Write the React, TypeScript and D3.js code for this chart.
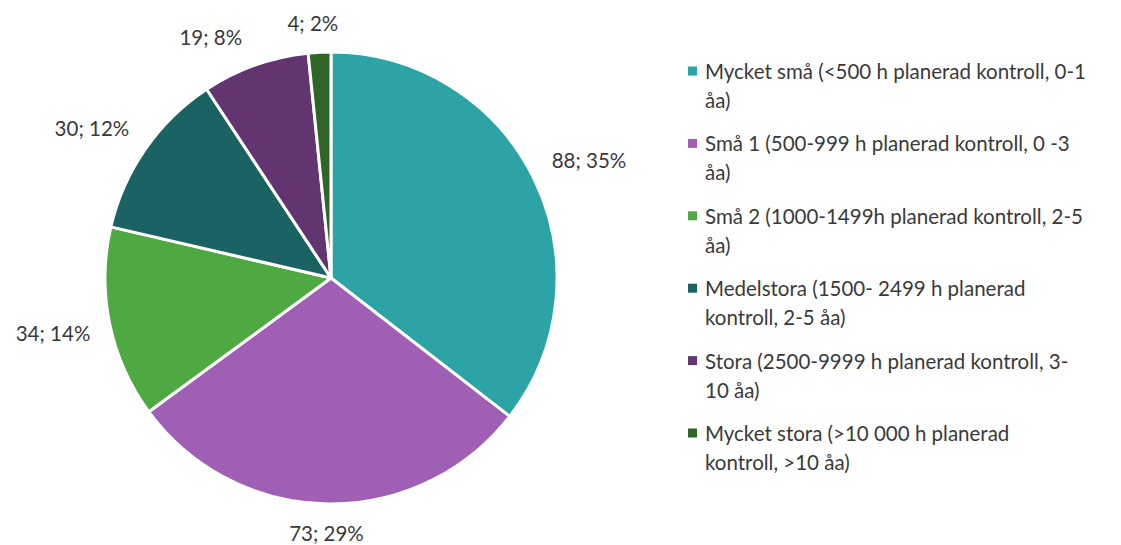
import React from 'react';
import * as d3 from 'd3';

const categories = [
  'Mycket små (<500 h planerad kontroll, 0-1 åa)',
  'Små 1 (500-999 h planerad kontroll, 0 -3 åa)',
  'Små 2 (1000-1499h planerad kontroll, 2-5 åa)',
  'Medelstora (1500- 2499 h planerad kontroll, 2-5 åa)',
  'Stora (2500-9999 h planerad kontroll, 3-10 åa)',
  'Mycket stora (>10 000 h planerad kontroll, >10 åa)'
];
const legendLines = [
  ['Mycket små (<500 h planerad kontroll, 0-1', 'åa)'],
  ['Små 1 (500-999 h planerad kontroll, 0 -3', 'åa)'],
  ['Små 2 (1000-1499h planerad kontroll, 2-5', 'åa)'],
  ['Medelstora (1500- 2499 h planerad', 'kontroll, 2-5 åa)'],
  ['Stora (2500-9999 h planerad kontroll, 3-', '10 åa)'],
  ['Mycket stora (>10 000 h planerad', 'kontroll, >10 åa)']
];
const values = [88, 73, 34, 30, 19, 4];
const colors = ['#2CA3A5', '#9E5FB5', '#4FA942', '#1B6362', '#623470', '#2F6628'];

const W = 1121;
const H = 545;
const cx = 331;
const cy = 278;
const R = 226;
const font = 'Lato, "Open Sans", sans-serif';
const fontSize = 20.5;
const textColor = '#3a3a3a';

export default function App() {
  const total = d3.sum(values);
  const pie = d3.pie<number>().sort(null).value(d => d);
  const arcs = pie(values);
  const arc = d3.arc<d3.PieArcDatum<number>>().innerRadius(0).outerRadius(R);

  const labelW = 76;
  const labelH = 20;
  const clamp = (v: number) => Math.max(-1, Math.min(1, v));

  return (
    <svg width={W} height={H} style={{ position: 'absolute', left: 0, top: 0 }}>
      <rect width={W} height={H} fill="#fff" />
      <g transform={`translate(${cx},${cy})`}>
        {arcs.map((a, i) => (
          <path key={i} d={arc(a) || ''} fill={colors[i]} stroke="#fff" strokeWidth={3} strokeLinejoin="round" />
        ))}
        {arcs.map((a, i) => {
          const mid = (a.startAngle + a.endAngle) / 2;
          const s = Math.sin(mid);
          const c = Math.cos(mid);
          const px = (R + 19) * s;
          const py = -(R + 19) * c;
          const lx = px + (labelW / 2) * clamp(s * 3);
          const ly = py - (labelH / 2) * clamp(c * 3);
          const pct = Math.round((values[i] / total) * 100);
          return (
            <text
              key={'l' + i}
              x={lx}
              y={ly}
              textAnchor="middle"
              dominantBaseline="central"
              fontFamily={font}
              fontSize={fontSize}
              fill={textColor}
            >
              {`${values[i]}; ${pct}%`}
            </text>
          );
        })}
      </g>
      <g>
        {categories.map((cat, i) => {
          const y0 = 71 + i * 72.4;
          return (
            <g key={cat}>
              <rect x={688} y={y0 - 4.5} width={9} height={9} fill={colors[i]} />
              {legendLines[i].map((ln, j) => (
                <text
                  key={j}
                  x={705}
                  y={y0 + j * 29}
                  dominantBaseline="central"
                  fontFamily={font}
                  fontSize={fontSize}
                  fill={textColor}
                >
                  {ln}
                </text>
              ))}
            </g>
          );
        })}
      </g>
    </svg>
  );
}
